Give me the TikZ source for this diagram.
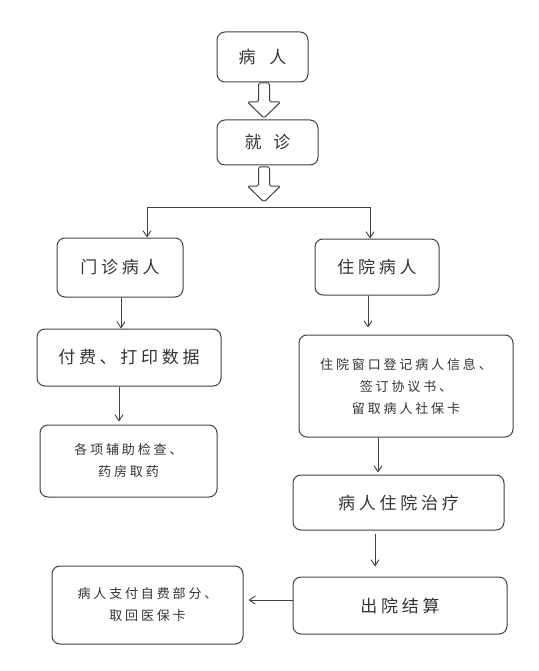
\documentclass[tikz,border=0pt]{standalone}
\usepackage{fontspec}
\newfontfamily\cjk[LetterSpace=22]{Noto Sans CJK SC}
\usetikzlibrary{arrows.meta}

\tikzset{
  stepbox/.style={draw=black!75, line width=1pt, rounded corners=8pt,
                  text=black!80, align=center, inner sep=0pt},
  bigtxt/.style={font=\cjk\fontsize{17}{21}\selectfont},
  smalltxt/.style={font=\cjk\fontsize{13}{22}\selectfont},
  arr/.style={draw=black!75, line width=0.9pt, -{Straight Barb[length=6pt,width=8pt]}},
  blockarr/.style={draw=black!75, line width=1pt, fill=white, rounded corners=1.5pt}
}
% hollow block arrow, top centre at (#1,#2)
\newcommand{\blockarrow}[2]{%
  \draw[blockarr] (#1,#2) ++(-5.5,0) -- ++(0,19) -- ++(-11,0) -- ++(16.5,16)
    -- ++(16.5,-16) -- ++(-11,0) -- ++(0,-19) -- cycle;}

\begin{document}
\begin{tikzpicture}[x=1pt,y=-1pt]
  \useasboundingbox (0,0) rectangle (538,671);
  % top of the flow
  \node[stepbox,bigtxt,minimum width=91pt,minimum height=50pt]  (patient) at (262.5,57) {病\hspace{14pt}人};
  \node[stepbox,bigtxt,minimum width=101pt,minimum height=45pt] (visit)   at (267.5,142.5) {就\hspace{12pt}诊};
  \blockarrow{264}{83}
  \blockarrow{264}{167}
  % outpatient branch
  \node[stepbox,bigtxt,minimum width=126pt,minimum height=59pt] (outpat) at (120,267.5) {门诊病人};
  \node[stepbox,bigtxt,minimum width=184pt,minimum height=57pt] (pay)    at (129,357.5) {付费、打印数据};
  \node[stepbox,smalltxt,minimum width=177pt,minimum height=72pt] (exam)  at (128.5,461) {各项辅助检查、\\药房取药};
  % inpatient branch
  \node[stepbox,bigtxt,minimum width=124pt,minimum height=56pt] (inpat)  at (377,267) {住院病人};
  \node[stepbox,smalltxt,minimum width=214pt,minimum height=102pt] (reg)  at (406,386) {住院窗口登记病人信息、\\签订协议书、\\留取病人社保卡};
  \node[stepbox,bigtxt,minimum width=211pt,minimum height=55pt] (treat)  at (398.5,502.5) {病人住院治疗};
  \node[stepbox,bigtxt,minimum width=214pt,minimum height=57pt] (settle) at (400,605.5) {出院结算};
  \node[stepbox,smalltxt,minimum width=191pt,minimum height=78pt] (paycard) at (147.5,605) {病人支付自费部分、\\取回医保卡};
  % connectors
  \coordinate (split) at (264,207);
  \draw[arr] (split) -| ([xshift=27pt]outpat.north);
  \draw[arr] (split) -| ([xshift=-7pt]inpat.north);
  \draw[arr] ([xshift=1pt]outpat.south) -- ([xshift=1pt]outpat.south |- pay.north);
  \draw[arr,shorten >=3pt] ([xshift=-10pt]pay.south) -- ([xshift=-10pt]pay.south |- exam.north);
  \draw[arr,shorten >=7pt] ([xshift=-9pt]inpat.south) -- ([xshift=-9pt]inpat.south |- reg.north);
  \draw[arr,shorten >=2pt] ([xshift=-28pt]reg.south) -- ([xshift=-28pt]reg.south |- treat.north);
  \draw[arr,shorten <=3pt,shorten >=10pt] ([xshift=-23.5pt]treat.south) -- ([xshift=-23.5pt]treat.south |- settle.north);
  \draw[arr,shorten >=5pt] ([yshift=5.5pt]settle.west) -- ([yshift=5.5pt]settle.west -| paycard.east);
\end{tikzpicture}
\end{document}
